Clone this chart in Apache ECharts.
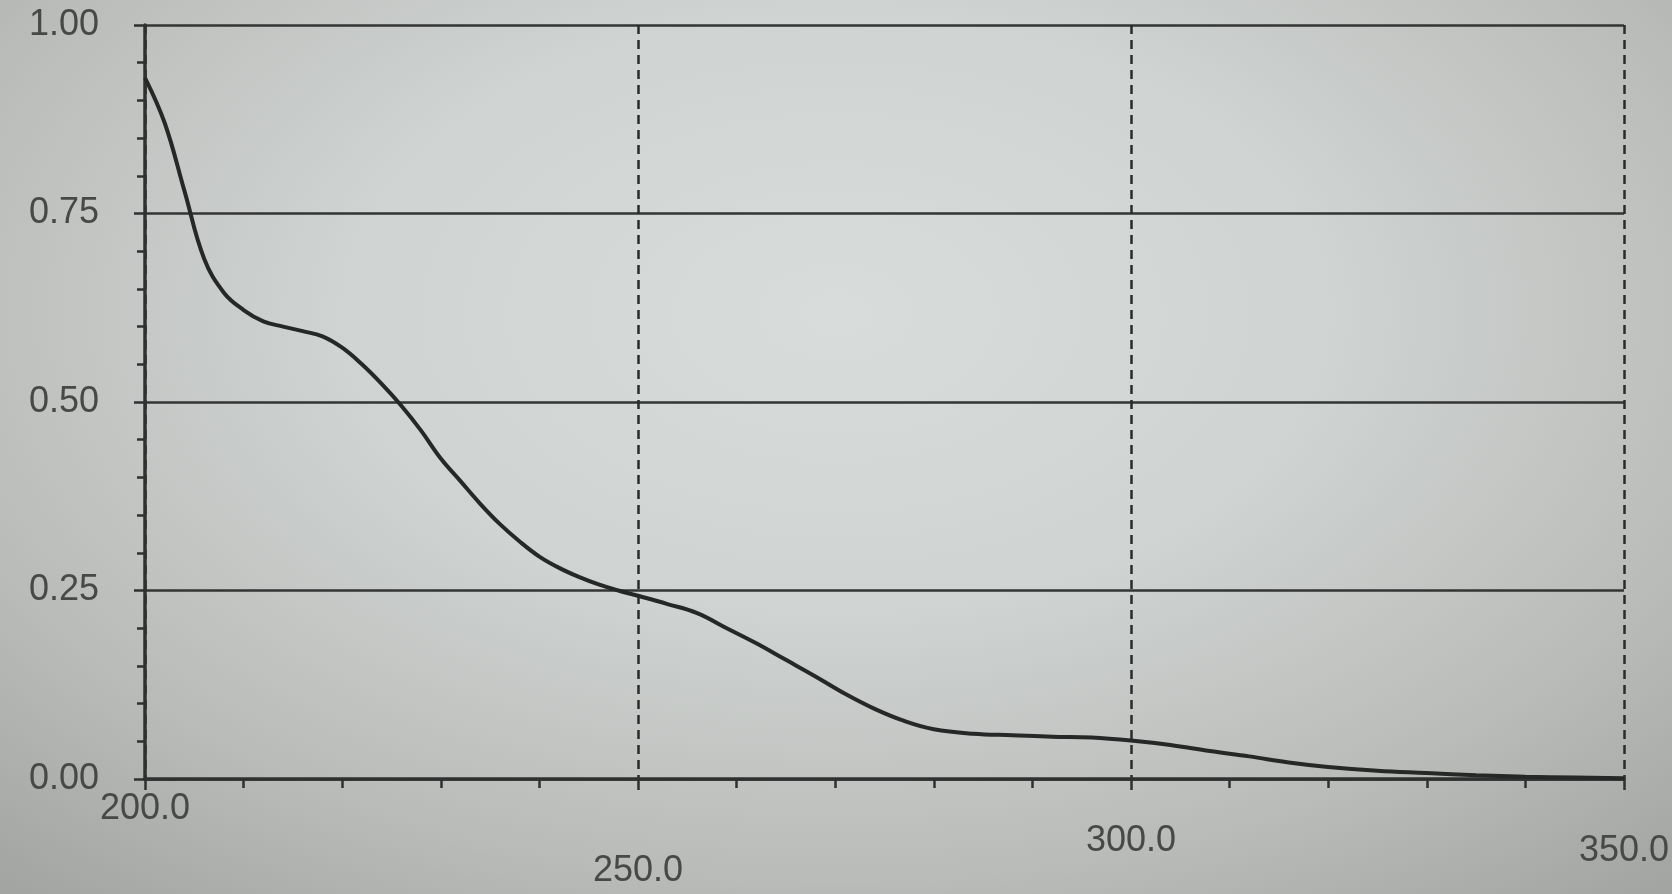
<!DOCTYPE html>
<html>
<head>
<meta charset="utf-8">
<script src="https://cdn.jsdelivr.net/npm/echarts@6/dist/echarts.min.js"></script>
<style>
  html, body { margin: 0; padding: 0; }
  #chart {
    width: 1672px; height: 894px;
    background: radial-gradient(ellipse 75% 85% at 50% 35%, #d8dcda 0%, #cfd3d1 40%, #b9bbb8 75%, #a3a5a2 100%);
  }
</style>
</head>
<body>
<div id="chart"></div>
<script>
// Wavelength (nm)
const wavelengths = [200, 202, 204, 206, 208, 210, 212, 214, 216, 218, 220, 222, 224, 226, 228, 230,
  232, 234, 236, 238, 240, 242, 244, 246, 248, 250, 253, 256, 259, 262, 265, 268, 271, 274, 277, 280,
  284, 288, 292, 296, 300, 304, 308, 312, 316, 320, 325, 330, 335, 340, 345, 350];
// Absorbance
const absorbance = [0.93, 0.87, 0.78, 0.69, 0.645, 0.622, 0.607, 0.600, 0.594, 0.587, 0.572, 0.550,
  0.524, 0.495, 0.462, 0.425, 0.395, 0.365, 0.338, 0.315, 0.295, 0.280, 0.268, 0.258, 0.250, 0.243,
  0.232, 0.220, 0.200, 0.180, 0.158, 0.136, 0.113, 0.093, 0.077, 0.066, 0.060, 0.058, 0.056, 0.055,
  0.051, 0.045, 0.037, 0.030, 0.022, 0.016, 0.011, 0.008, 0.005, 0.003, 0.002, 0.001];
// Tick label settings
const xMin = 200, xMax = 350, xStep = 50;
const yMin = 0, yMax = 1, yStep = 0.25;

const axisColor = '#2f3130';
const labelColor = '#474948';
const xLabelStyle = { 200: 'a', 250: 'b', 300: 'c', 350: 'd' };

const chart = echarts.init(document.getElementById('chart'), null, { renderer: 'canvas' });
chart.setOption({
  backgroundColor: 'transparent',
  animation: false,
  grid: { left: 145, right: 10, top: 25, bottom: 115, containLabel: false },
  xAxis: {
    type: 'value', min: xMin, max: xMax, interval: xStep,
    axisLine: { show: true, lineStyle: { color: axisColor, width: 3.5 } },
    axisTick: { show: true, inside: false, length: 11, lineStyle: { color: axisColor, width: 2.5 } },
    minorTick: { show: true, splitNumber: 5, length: 9, lineStyle: { color: axisColor, width: 2.5 } },
    splitLine: { show: true, lineStyle: { color: '#2a2c2b', width: 2.5, type: [9, 6] } },
    axisLabel: {
      color: labelColor, fontFamily: 'Liberation Sans, Arial, sans-serif', fontSize: 36,
      margin: 12,
      formatter: v => '{' + (xLabelStyle[v] || 'a') + '|' + v.toFixed(1) + '}',
      rich: {
        a: { fontSize: 36, color: labelColor, padding: [0, 0, 0, 0] },
        b: { fontSize: 36, color: labelColor, padding: [62, 0, 0, 0] },
        c: { fontSize: 36, color: labelColor, padding: [32, 0, 0, 0] },
        d: { fontSize: 36, color: labelColor, padding: [42, 0, 0, 0] }
      }
    }
  },
  yAxis: {
    type: 'value', min: yMin, max: yMax, interval: yStep,
    axisLine: { show: true, lineStyle: { color: axisColor, width: 3.5 } },
    axisTick: { show: true, inside: false, length: 11, lineStyle: { color: axisColor, width: 2.5 } },
    minorTick: { show: true, splitNumber: 5, length: 8, lineStyle: { color: axisColor, width: 2.5 } },
    splitLine: { show: true, lineStyle: { color: '#333534', width: 2.5 } },
    axisLabel: {
      color: labelColor, fontFamily: 'Liberation Sans, Arial, sans-serif', fontSize: 36,
      margin: 46,
      formatter: v => v.toFixed(2)
    }
  },
  series: [{
    type: 'line',
    data: wavelengths.map((w, i) => [w, absorbance[i]]),
    smooth: 0.4,
    showSymbol: false,
    lineStyle: { color: '#262827', width: 4 }
  }]
});
</script>
</body>
</html>
